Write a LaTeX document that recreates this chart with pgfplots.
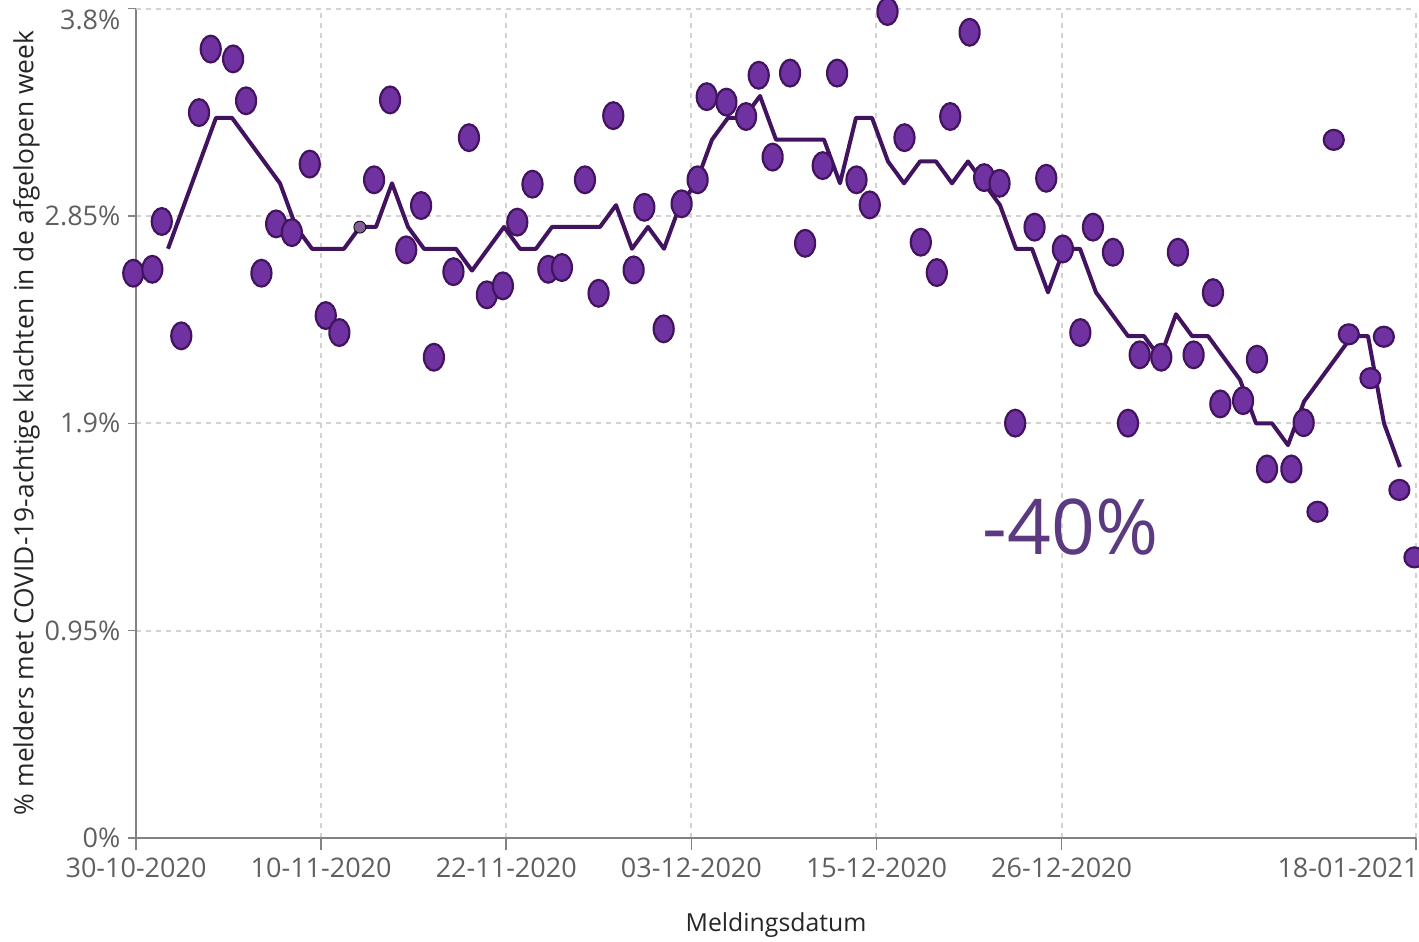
\documentclass[border=0pt]{standalone}
\usepackage{fontspec}
\setmainfont{Open Sans}
\usepackage{pgfplots}
\usepackage{pgfplotstable}
\pgfplotsset{compat=1.18}

\definecolor{dotfill}{RGB}{112,50,160}
\definecolor{dotedge}{RGB}{66,20,95}
\definecolor{trend}{RGB}{66,20,95}
\definecolor{hover}{RGB}{130,95,150}
\definecolor{axisgray}{RGB}{130,130,130}
\definecolor{gridgray}{RGB}{210,210,210}
\definecolor{tickgray}{RGB}{95,95,95}
\definecolor{labelpurple}{RGB}{91,58,127}

\tikzset{gridln/.style={draw=gridgray, line width=1pt, dash pattern=on 2.5pt off 2.5pt}}

% daily share, elliptic markers (day 0 = 30-10-2020)
\pgfplotstableread{
day   pct
-0.17 2.588
1.02  2.606
1.61  2.825
2.83  2.301
3.94  3.324
4.67  3.615
6.07  3.570
6.88  3.378
7.84  2.588
8.76  2.814
9.74  2.774
10.86 3.088
11.86 2.394
12.71 2.316
14.88 3.016
15.88 3.382
16.89 2.695
17.82 2.898
18.62 2.203
19.84 2.595
20.81 3.209
21.93 2.489
22.93 2.530
23.83 2.822
24.78 2.996
25.77 2.606
26.62 2.614
28.06 3.016
28.91 2.496
29.83 3.310
31.10 2.603
31.77 2.890
32.98 2.333
34.10 2.906
35.10 3.016
35.67 3.397
36.90 3.372
38.13 3.306
38.92 3.495
39.79 3.120
40.88 3.505
41.82 2.725
42.92 3.081
43.82 3.505
45.03 3.016
45.86 2.901
46.97 3.787
48.03 3.209
49.05 2.730
50.05 2.591
50.89 3.306
52.10 3.692
53.01 3.026
53.97 3.000
54.95 1.901
56.16 2.799
56.89 3.023
57.93 2.699
59.02 2.316
59.81 2.799
61.06 2.684
62.00 1.901
62.73 2.214
64.08 2.203
65.12 2.684
66.10 2.214
67.31 2.499
67.77 1.989
69.19 2.004
70.06 2.194
70.69 1.691
72.21 1.691
72.98 1.903
}\dailytable

% last week, round markers
\pgfplotstableread{
day   pct
73.84 1.495
74.86 3.199
75.80 2.308
77.15 2.107
77.99 2.297
78.96 1.595
79.90 1.286
}\lastweektable

% 7-day average
\pgfplotstableread{
day pct
2  2.7
3  2.9
4  3.1
5  3.3
6  3.3
7  3.2
8  3.1
9  3.0
10 2.8
11 2.7
12 2.7
13 2.7
14 2.8
15 2.8
16 3.0
17 2.8
18 2.7
19 2.7
20 2.7
21 2.6
22 2.7
23 2.8
24 2.7
25 2.7
26 2.8
27 2.8
28 2.8
29 2.8
30 2.9
31 2.7
32 2.8
33 2.7
34 2.9
35 3.0
36 3.2
37 3.3
38 3.3
39 3.4
40 3.2
41 3.2
42 3.2
43 3.2
44 3.0
45 3.3
46 3.3
47 3.1
48 3.0
49 3.1
50 3.1
51 3.0
52 3.1
53 3.0
54 2.9
55 2.7
56 2.7
57 2.5
58 2.7
59 2.7
60 2.5
61 2.4
62 2.3
63 2.3
64 2.2
65 2.4
66 2.3
67 2.3
68 2.2
69 2.1
70 1.9
71 1.9
72 1.8
73 2.0
74 2.1
75 2.2
76 2.3
77 2.3
78 1.9
79 1.7
}\avgtable

\pgfdeclareplotmark{ellipse}{%
  \pgfpathellipse{\pgfpointorigin}{\pgfqpoint{5pt}{0pt}}{\pgfqpoint{0pt}{6.7pt}}%
  \pgfusepathqfillstroke}

\begin{document}
\begin{tikzpicture}
\begin{axis}[
    scale only axis,
    width=640pt, height=414.65pt,
    xmin=0, xmax=80, ymin=0, ymax=3.8,
    clip=false,
    axis x line*=bottom, axis y line*=left,
    axis line style={draw=axisgray, line width=1pt},
    tick align=outside,
    tick style={draw=axisgray, line width=0.75pt},
    xtick style={/pgfplots/major tick length=6pt},
    ytick style={/pgfplots/major tick length=4pt},
    xtick={0,11.57,23.14,34.71,46.28,57.85,80},
    xticklabels={30-10-2020,10-11-2020,22-11-2020,03-12-2020,15-12-2020,26-12-2020,
      \makebox[0pt][r]{18-01-2021\hspace{-1.2pt}}},
    ytick={0,0.95,1.9,2.85},
    yticklabels={0\%,0.95\%,1.9\%,2.85\%},
    extra y ticks={3.8},
    extra y tick labels={3.8\%},
    extra y tick style={grid=major, major grid style={gridln},
      yticklabel style={yshift=-5.5pt}},
    grid=major,
    major grid style={gridln},
    ticklabel style={font=\fontsize{13.5pt}{16pt}\selectfont, text=tickgray},
    xticklabel style={yshift=-2pt},
    xlabel={Meldingsdatum},
    ylabel={\% melders met COVID-19-achtige klachten in de afgelopen week},
    every axis x label/.style={at={(axis description cs:0.5,-0.1049)}, anchor=center,
      font=\fontsize{12.4pt}{15pt}\selectfont, text=black!85},
    every axis y label/.style={at={(axis description cs:-0.0855,0.5)}, anchor=center, rotate=90,
      font=\fontsize{13.2pt}{16pt}\selectfont, text=black!85},
]
\addplot[trend, line width=2pt, line join=round, no markers] table[x=day, y=pct] {\avgtable};
\addplot[only marks, mark=ellipse, mark options={draw=dotedge, fill=dotfill, line width=1.1pt}]
    table[x=day, y=pct] {\dailytable};
\addplot[only marks, mark=*, mark size=5pt, mark options={draw=dotedge, fill=dotfill, line width=1.1pt}]
    table[x=day, y=pct] {\lastweektable};
\addplot[only marks, mark=*, mark size=3pt, mark options={draw=none, fill=hover}]
    coordinates {(13.99,2.799)};
\node[anchor=base, text=labelpurple, font=\fontsize{38.4pt}{42pt}\selectfont] at (axis cs:58.4,1.297) {-40\%};
\coordinate (bl) at (rel axis cs:0,0);
\coordinate (tr) at (rel axis cs:1,1);
\end{axis}
\pgfresetboundingbox
\path[use as bounding box] ([xshift=-68pt,yshift=-51.5pt]bl) rectangle ([xshift=1.5pt,yshift=4.35pt]tr);
\end{tikzpicture}
\end{document}
